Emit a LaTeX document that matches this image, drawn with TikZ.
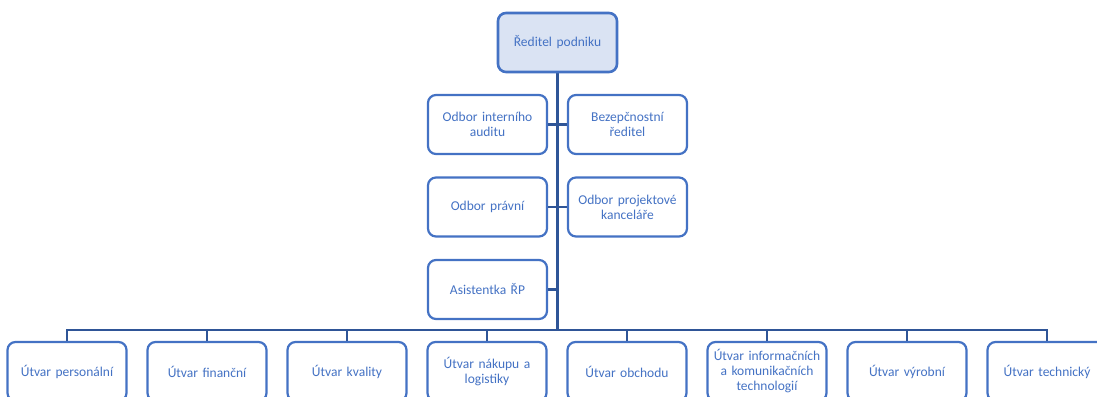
\documentclass[tikz,border=0pt]{standalone}
\usepackage{fontspec}
\setmainfont{Carlito}
\definecolor{boxblue}{HTML}{4472C4}
\definecolor{lineblue}{HTML}{2F5597}
\definecolor{topfill}{HTML}{DAE3F3}
\begin{document}
\begin{tikzpicture}[x=1pt,y=-1pt,
  unit/.style={draw=boxblue,line width=2.2pt,rounded corners=8pt,fill=white,
    minimum width=119pt,minimum height=59pt,inner sep=0pt,text width=117pt,
    align=center,text=boxblue,font=\fontsize{13.5pt}{15pt}\selectfont},
  headbox/.style={unit,fill=topfill,line width=2.6pt},
  conn/.style={draw=lineblue,line width=2.6pt}]
\useasboundingbox (0,0) rectangle (1097,396);
\clip (0,0) rectangle (1097,396);
\draw[conn] (557.5,72) -- (557.5,330);
\node[headbox] (top) at (557.5,42.5) {Ředitel podniku};
\node[unit] (audit) at (487.5,124.5) {Odbor interního\\auditu};
\node[unit] (bezp) at (627.5,124.5) {Bezepčnostní\\ředitel};
\node[unit] (prav) at (487.5,207) {Odbor právní};
\node[unit] (proj) at (627.5,207) {Odbor projektové\\kanceláře};
\node[unit] (asist) at (487.5,289.5) {Asistentka ŘP};
\coordinate (bus) at (557.5,330);
\node[unit] (b1) at (67,371.5) {Útvar personální};
\node[unit] (b2) at (207,371.5) {Útvar finanční};
\node[unit] (b3) at (347,371.5) {Útvar kvality};
\node[unit] (b4) at (487,371.5) {Útvar nákupu a\\logistiky};
\node[unit] (b5) at (627,371.5) {Útvar obchodu};
\node[unit] (b6) at (767,371.5) {Útvar informačních\\a komunikačních\\technologií};
\node[unit] (b7) at (907,371.5) {Útvar výrobní};
\node[unit] (b8) at (1047,371.5) {Útvar technický};
\foreach \n in {audit,prav,asist}{\draw[conn] (\n.east) -- (\n.east -| top.south);}
\foreach \n in {bezp,proj}{\draw[conn] (\n.west) -- (\n.west -| top.south);}
\draw[conn,line cap=rect] (b1.north |- bus) -- (b8.north |- bus);
\foreach \n in {b1,b2,b3,b4,b5,b6,b7,b8}{\draw[conn] (\n.north) -- (\n.north |- bus);}
\end{tikzpicture}
\end{document}
